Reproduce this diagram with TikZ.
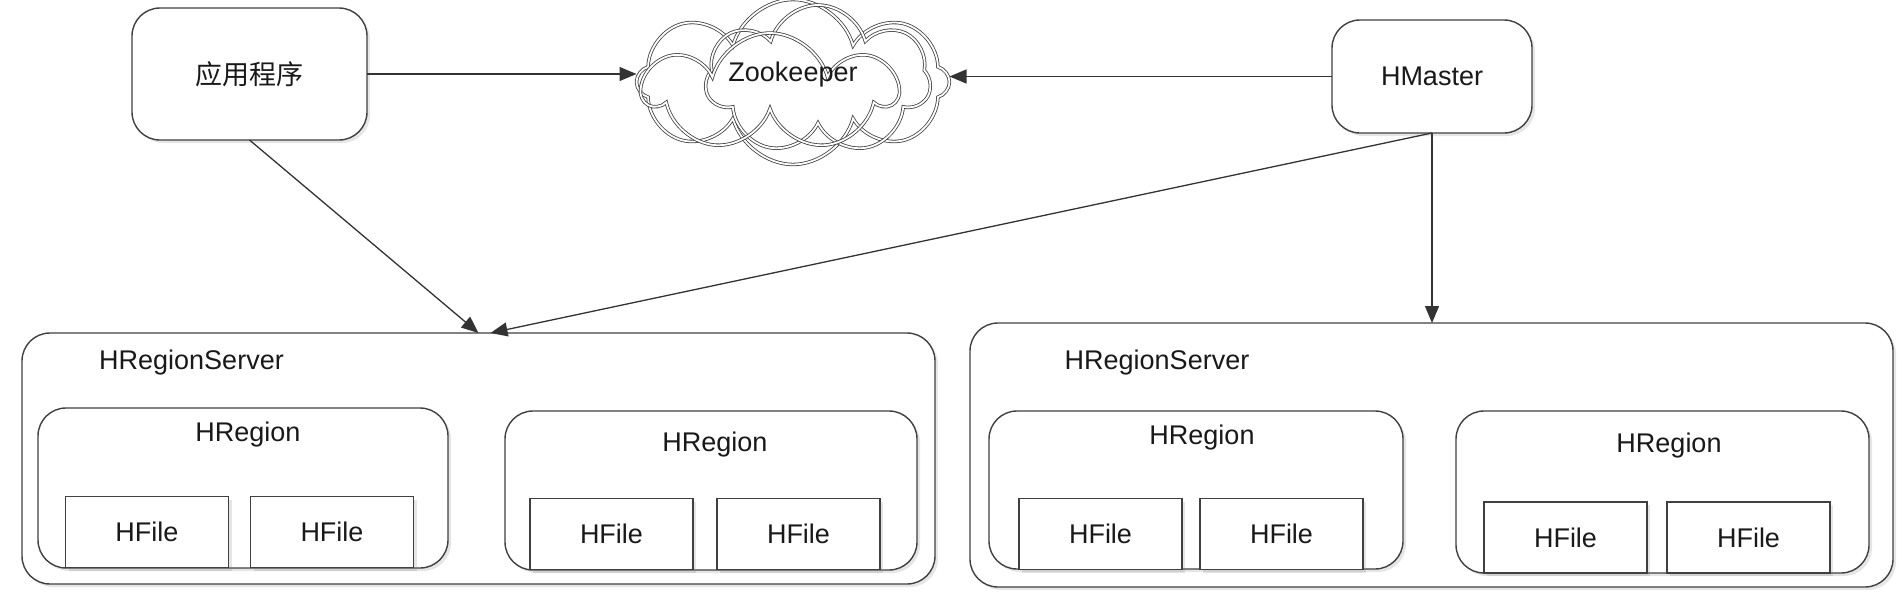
\documentclass[tikz,border=0pt]{standalone}
\usepackage{fontspec}
\setmainfont{Liberation Sans}
\newfontfamily\cjk{Noto Sans CJK SC}
\usetikzlibrary{positioning, arrows.meta, shapes.symbols, shadows}
\tikzset{
    txt/.style={font=\fontsize{27}{32}\selectfont, text=black!90},
    boxed/.style={draw=black!75, line width=1.4pt, fill=white, rounded corners=28pt, inner sep=0pt, outer sep=0pt, txt,
        drop shadow={opacity=0.2, shadow xshift=3pt, shadow yshift=-3pt}},
    hfile/.style={boxed, rounded corners=0pt, minimum width=163pt, minimum height=71pt},
    caption/.style={txt, inner sep=0pt},
    cloudy/.style={cloud, cloud ignores aspect, draw=black!75, line width=0.8pt, double, double distance=1.8pt, inner sep=0pt, outer sep=0pt},
    flow/.style={-{Triangle[length=17pt, width=14pt]}, draw=black!80, line width=1.3pt} }

\begin{document}
\begin{tikzpicture}[x=1pt, y=-1pt, node distance=22pt]
			\useasboundingbox (0,0) rectangle (1904,608);
			\node[boxed, minimum width=235pt, minimum height=132pt] (app) at (249.5,74) {\cjk 应用程序};
			\node[cloudy, cloud puffs=8, minimum width=313pt, minimum height=165pt] (zk) at (793,82) {};
			\node[cloudy, cloud puffs=7, minimum width=225pt, minimum height=150pt] (zkB) at (818,80) {};
			\node[cloudy, cloud puffs=7, minimum width=250pt, minimum height=118pt, shape border rotate=20] (zkC) at (770,92) {};
			\node[caption] (zkname) at (793,75) {Zookeeper};
			\node[boxed, minimum width=200pt, minimum height=113pt] (hm) at (1432,76.5) {HMaster};
			% ---- left server
			\node[boxed, minimum width=913pt, minimum height=251pt] (srvL) at (478.5,458.5) {};
			\node[caption] (srvLname) at (191.5,363) {HRegionServer};
			\node[boxed, minimum width=410pt, minimum height=160pt] (regL1) at (243,488) {};
			\node[caption] (regL1name) at (248,435) {HRegion};
			\node[hfile] (hfL1a) at (147,532) {HFile};
			\node[hfile, right = of hfL1a] (hfL1b) {HFile};
			\node[boxed, minimum width=412pt, minimum height=159pt] (regL2) at (711,490.5) {};
			\node[caption] (regL2name) at (715,445) {HRegion};
			\node[hfile] (hfL2a) at (611.5,534) {HFile};
			\node[hfile, right = 24pt of hfL2a] (hfL2b) {HFile};
			% ---- right server
			\node[boxed, minimum width=923pt, minimum height=264pt] (srvR) at (1431.5,455) {};
			\node[caption] (srvRname) at (1157,363) {HRegionServer};
			\node[boxed, minimum width=414pt, minimum height=158pt] (regR1) at (1196,490) {};
			\node[caption] (regR1name) at (1202,438) {HRegion};
			\node[hfile] (hfR1a) at (1100.5,534) {HFile};
			\node[hfile, right = 18pt of hfR1a] (hfR1b) {HFile};
			\node[boxed, minimum width=413pt, minimum height=162pt] (regR2) at (1662.5,492) {};
			\node[caption] (regR2name) at (1669,446) {HRegion};
			\node[hfile] (hfR2a) at (1565.5,537.5) {HFile};
			\node[hfile, right = 20pt of hfR2a] (hfR2b) {HFile};
			% ----
			\draw[flow] (app.east) -- (app.east -| zk.west);
			\draw[flow] (hm.west) -- (hm.west -| zk.east);
			\draw[flow] (app.south) -- (srvL.north);
			\draw[flow] (hm.south) -- ([xshift=12pt]srvL.north);
			\draw[flow] (hm.south) -- (hm.south |- srvR.north);
		\end{tikzpicture}
\end{document}
